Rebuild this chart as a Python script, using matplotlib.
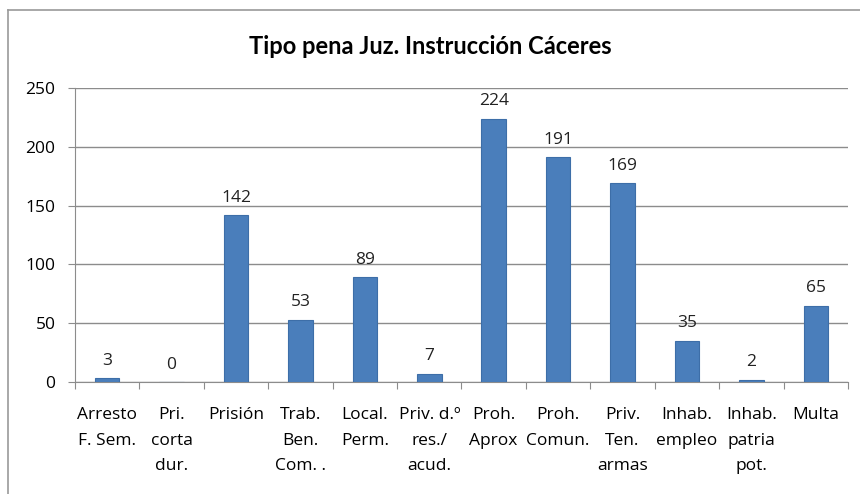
import numpy as np
import matplotlib.pyplot as plt
from matplotlib.lines import Line2D

plt.rcParams['font.family'] = ['Open Sans', 'DejaVu Sans']

categories = ["Arresto\nF. Sem.", "Pri.\ncorta\ndur.", "Prisión", "Trab.\nBen.\nCom. .",
              "Local.\nPerm.", "Priv. d.º\nres./\nacud.", "Proh.\nAprox", "Proh.\nComun.",
              "Priv.\nTen.\narmas", "Inhab.\nempleo", "Inhab.\npatria\npot.", "Multa"]
values = [3, 0, 142, 53, 89, 7, 224, 191, 169, 35, 2, 65]
yticks = [0, 50, 100, 150, 200, 250]

fig = plt.figure(figsize=(8.6, 4.94), dpi=100)
ax = fig.add_axes([0.0872, 0.2267, 0.8988, 0.5953])

x = np.arange(len(categories))
ax.bar(x, values, width=0.38, color='#4a7ebb', edgecolor='#3d6ea8', linewidth=0.8, zorder=3)

# data labels
for xi, v in zip(x, values):
    ax.text(xi, v + 8, str(v), ha='center', va='bottom', fontsize=12.5, color='#222222')

ax.set_xlim(-0.5, len(categories) - 0.5)
ax.set_ylim(0, 250)
ax.set_yticks(yticks)
ax.set_yticklabels([str(t) for t in yticks], fontsize=12.5)
ax.yaxis.grid(True, color='#8c8c8c', linewidth=1.0, zorder=0)

# categories between ticks
ax.set_xticks(np.arange(len(categories) + 1) - 0.5)
ax.set_xticklabels([])
ax.set_xticks(x, minor=True)
ax.set_xticklabels(categories, minor=True, fontsize=12.5, linespacing=1.8, va='top', ha='center')
ax.tick_params(axis='x', which='minor', length=0, pad=18)
ax.tick_params(axis='x', which='major', length=5, color='#8c8c8c', direction='out')
ax.tick_params(axis='y', length=5, color='#8c8c8c', pad=9)

for s in ['top', 'right']:
    ax.spines[s].set_visible(False)
ax.spines['left'].set_color('#8c8c8c')
ax.spines['bottom'].set_color('#8c8c8c')

fig.text(0.5, 0.905, "Tipo pena Juz. Instrucción Cáceres", ha='center', va='center',
         fontsize=17, fontweight='bold', family=['Lato', 'DejaVu Sans'])

# outer chart border (only top and left visible)
fig.add_artist(Line2D([0.0093, 0.0093], [0.0, 0.98], transform=fig.transFigure,
                      color='#9a9a9a', linewidth=1.2))
fig.add_artist(Line2D([0.0093, 1.0], [0.98, 0.98], transform=fig.transFigure,
                      color='#9a9a9a', linewidth=1.2))

fig.savefig("out.png", dpi=100)
